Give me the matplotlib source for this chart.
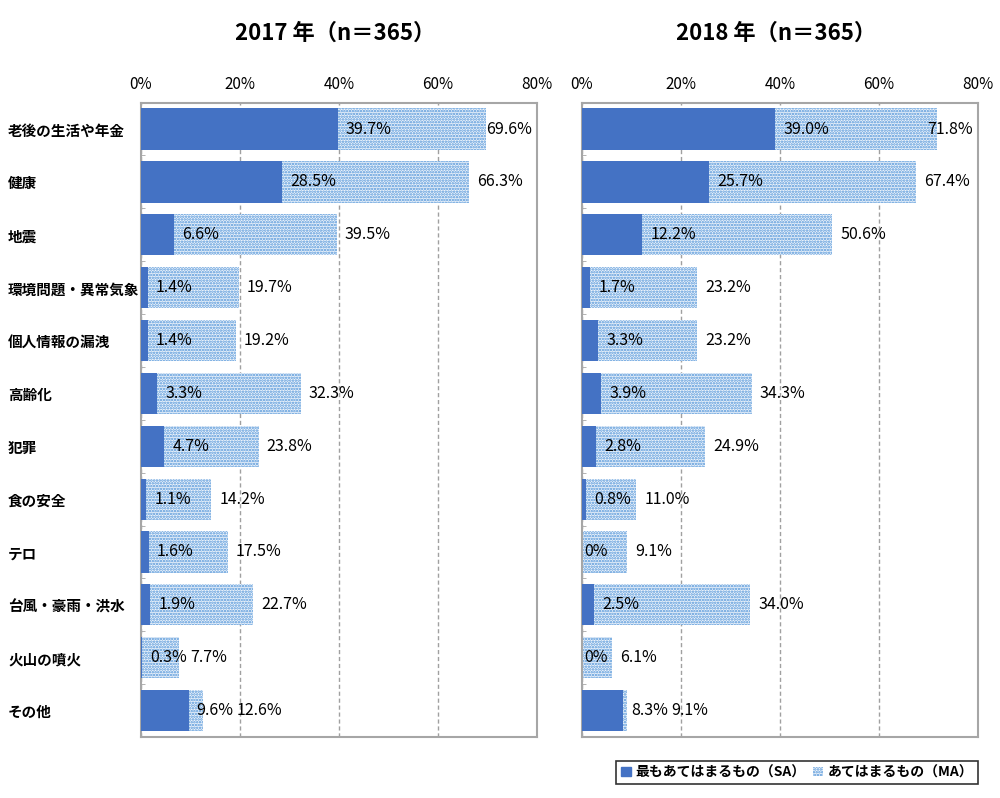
import matplotlib
matplotlib.use('Agg')
import matplotlib.pyplot as plt
import numpy as np
from matplotlib.patches import Patch

plt.rcParams['font.family'] = ['Noto Sans CJK JP', 'DejaVu Sans']
plt.rcParams['hatch.linewidth'] = 1.2

categories = ['老後の生活や年金', '健康', '地震', '環境問題・異常気象', '個人情報の漏洩',
              '高齢化', '犯罪', '食の安全', 'テロ', '台風・豪雨・洪水', '火山の噴火', 'その他']
sa_2017 = [39.7, 28.5, 6.6, 1.4, 1.4, 3.3, 4.7, 1.1, 1.6, 1.9, 0.3, 9.6]
ma_2017 = [69.6, 66.3, 39.5, 19.7, 19.2, 32.3, 23.8, 14.2, 17.5, 22.7, 7.7, 12.6]
sa_2018 = [39.0, 25.7, 12.2, 1.7, 3.3, 3.9, 2.8, 0.8, 0.0, 2.5, 0.0, 8.3]
ma_2018 = [71.8, 67.4, 50.6, 23.2, 23.2, 34.3, 24.9, 11.0, 9.1, 34.0, 6.1, 9.1]
titles = ['2017 年（n＝365）', '2018 年（n＝365）']
xticks = [0, 20, 40, 60, 80]
legend_labels = ['最もあてはまるもの（SA）', 'あてはまるもの（MA）']

SA_COLOR = '#4472C4'
DOT_FACE = '#EEF4FB'
DOT_COLOR = '#4F93D8'
FRAME = '#A6A6A6'


def fmt(v):
    return '0%' if v == 0 else f'{v:.1f}%'


fig = plt.figure(figsize=(10, 7.98), dpi=100)
ax_l = fig.add_axes([0.141, 0.0764, 0.396, 0.795])
ax_r = fig.add_axes([0.582, 0.0764, 0.396, 0.795])

y = np.arange(len(categories))
panels = [(ax_l, sa_2017, ma_2017, titles[0]), (ax_r, sa_2018, ma_2018, titles[1])]

for ax, sa, ma, title in panels:
    ax.barh(y, ma, height=0.78, color=DOT_FACE, edgecolor=DOT_COLOR, hatch='......',
            linewidth=0, zorder=2)
    ax.barh(y, sa, height=0.78, color=SA_COLOR, zorder=3)
    ax.set_xlim(0, 80)
    ax.set_ylim(len(categories) - 0.5, -0.5)
    ax.set_xticks(xticks)
    ax.set_xticklabels([f'{t}%' for t in xticks], fontsize=11)
    ax.xaxis.tick_top()
    ax.tick_params(axis='x', length=0, pad=7)
    ax.grid(axis='x', linestyle=(0, (3, 2)), color='#A0A0A0', linewidth=1, zorder=1)
    ax.set_yticks(y)
    ax.set_yticks(np.arange(len(categories) + 1) - 0.5, minor=True)
    ax.tick_params(axis='y', which='major', length=0)
    ax.tick_params(axis='y', which='minor', direction='in', length=3, color=FRAME)
    for s in ax.spines.values():
        s.set_color(FRAME)
        s.set_linewidth(1.5)
    x0, x1 = ax.get_position().x0, ax.get_position().x1
    fig.text((x0 + x1) / 2 - 0.004, 1 - 33 / 798, title, ha='center', va='center',
             fontsize=16, fontweight='bold')

ax_l.set_yticklabels(categories, fontsize=10.5, fontweight='bold', ha='left')
ax_l.tick_params(axis='y', which='major', pad=(141 - 8) * 0.72)
ax_r.set_yticklabels([])

# data labels, laid out with the renderer so neighbours do not overlap
fig.canvas.draw()
renderer = fig.canvas.get_renderer()
for ax, sa, ma, _ in panels:
    to_px = ax.transData
    right_px = ax.transAxes.transform((1, 0))[0]
    for i in range(len(categories)):
        off = 2 if sa[i] == 0 else 8
        t1 = ax.annotate(fmt(sa[i]), xy=(sa[i], i), xytext=(off, 0), textcoords='offset pixels',
                         va='center', ha='left', fontsize=11.5, zorder=5)
        e1 = t1.get_window_extent(renderer)
        ma_x = to_px.transform((ma[i], i))[0] + 8
        ma_x = max(ma_x, e1.x1 + 3)
        t2 = ax.annotate(fmt(ma[i]), xy=(ma[i], i), xytext=(0, 0), textcoords='offset pixels',
                         va='center', ha='left', fontsize=11.5, zorder=5)
        w = t2.get_window_extent(renderer).width
        ma_x = min(ma_x, right_px - 5 - w)
        t2.set_position((ma_x - to_px.transform((ma[i], i))[0], 0))

handles = [Patch(facecolor=SA_COLOR, edgecolor=SA_COLOR),
           Patch(facecolor=DOT_FACE, edgecolor=DOT_COLOR, hatch='......', linewidth=0)]
leg = fig.legend(handles, legend_labels, loc='center', bbox_to_anchor=(0.797, 0.032),
                 ncol=2, frameon=True, fancybox=False, edgecolor='black',
                 handlelength=0.7, handleheight=0.7, handletextpad=0.3, columnspacing=0.6,
                 borderpad=0.35, prop={'weight': 'bold', 'size': 10})
leg.get_frame().set_linewidth(1.2)

fig.savefig('out.png', dpi=100)
